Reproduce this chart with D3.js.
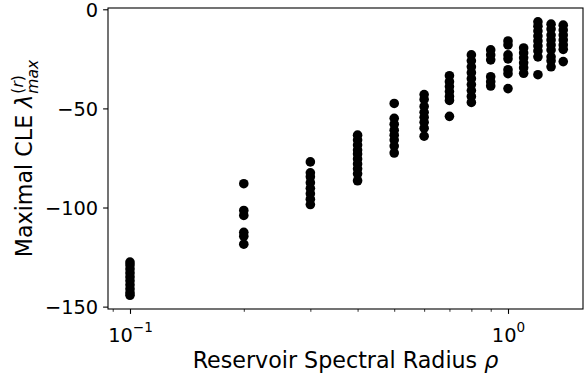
<!DOCTYPE html>
<html>
<head>
<meta charset="utf-8">
<script src="https://cdn.jsdelivr.net/npm/d3@7"></script>
<style>
  html, body { margin: 0; padding: 0; background: #fff; }
  svg { display: block; }
  text { font-family: "DejaVu Sans", sans-serif; fill: #000; }
</style>
</head>
<body>
<svg id="chart" width="585" height="373"></svg>
<script>
// Reservoir spectral radius for each batch of runs
const rhoValues = [0.1, 0.2, 0.3, 0.4, 0.5, 0.6, 0.7, 0.8, 0.9, 1.0, 1.1, 1.2, 1.3, 1.4];

// Maximal conditional Lyapunov exponent of each run, grouped by spectral radius
const cle010 = [-127.5, -129, -131, -133, -135, -137, -139, -141, -143, -144.3];
const cle020 = [-88, -101.5, -104, -112.5, -114.5, -118.5];
const cle030 = [-77, -82.5, -84.5, -87.5, -90.3, -93, -95.8, -98.5];
const cle040 = [-63.5, -66, -68.5, -71, -73, -75.5, -78, -80.5, -83, -86.5];
const cle050 = [-47.5, -55, -58, -61, -63.5, -66, -69, -72.5];
const cle060 = [-43, -45.5, -49, -52, -54.5, -57, -60, -64];
const cle070 = [-33.5, -36.5, -39, -41.5, -44, -46, -54];
const cle080 = [-23, -26, -29, -32, -35, -38, -41, -44, -47];
const cle090 = [-20.5, -23, -25.5, -34, -36.5, -38.7];
const cle100 = [-16, -18, -23, -25, -30.5, -32.5, -40];
const cle110 = [-19.5, -22, -24.5, -27, -29.5, -32.3];
const cle120 = [-6.3, -8.5, -11, -13.5, -16, -18.5, -21, -24, -33];
const cle130 = [-7.5, -10, -13, -15.5, -18, -20.5, -24, -26, -29];
const cle140 = [-8, -10.5, -13, -15.5, -18, -20.2, -26.4];
const cleSamples = [cle010, cle020, cle030, cle040, cle050, cle060, cle070,
                    cle080, cle090, cle100, cle110, cle120, cle130, cle140];

const yTickValues = [0, -50, -100, -150];
const xMajorTicks = [0.1, 1];
const xTickExponents = ["\u22121", "0"];

const points = [];
rhoValues.forEach((rho, i) => cleSamples[i].forEach(v => points.push({ rho, v })));

const svg = d3.select("#chart");
const plotLeft = 108, plotRight = 583, plotTop = 8, plotBottom = 309;

const x = d3.scaleLog()
  .domain([Math.pow(10, -1.0582), Math.pow(10, 0.1984)])
  .range([plotLeft, plotRight]);
const y = d3.scaleLinear()
  .domain([-151.2, 0.65])
  .range([plotBottom, plotTop]);

const tickFont = 19.4;
const labelFont = 22.2;

// points
svg.append("g")
  .selectAll("circle")
  .data(points)
  .join("circle")
  .attr("cx", d => x(d.rho))
  .attr("cy", d => y(d.v))
  .attr("r", 4.8)
  .attr("fill", "#000");

// frame
svg.append("rect")
  .attr("x", plotLeft).attr("y", plotTop)
  .attr("width", plotRight - plotLeft).attr("height", plotBottom - plotTop)
  .attr("fill", "none").attr("stroke", "#000").attr("stroke-width", 1.1);

// y axis
const yAxis = svg.append("g")
  .attr("transform", `translate(${plotLeft},0)`)
  .call(d3.axisLeft(y).tickValues(yTickValues)
    .tickSize(4.9).tickPadding(4.9)
    .tickFormat(d => d < 0 ? "\u2212" + Math.abs(d) : String(d)));
yAxis.select(".domain").remove();
yAxis.selectAll(".tick line").attr("stroke-width", 1.1);
yAxis.selectAll(".tick text")
  .attr("font-size", tickFont)
  .attr("font-family", "DejaVu Sans")
  .attr("dy", "0.36em");

// x axis: minor ticks
const minorTicks = [];
[0.01, 0.1, 1].forEach(dec => {
  for (let k = 2; k <= 9; k++) {
    const t = dec * k;
    const [d0, d1] = x.domain();
    if (t >= d0 && t <= d1) minorTicks.push(t);
  }
});
const xMinor = svg.append("g")
  .attr("transform", `translate(0,${plotBottom})`)
  .call(d3.axisBottom(x).tickValues(minorTicks).tickSize(2.8).tickFormat(""));
xMinor.select(".domain").remove();
xMinor.selectAll(".tick line").attr("stroke-width", 0.8);

// x axis: major ticks with power-of-ten labels
const xAxis = svg.append("g")
  .attr("transform", `translate(0,${plotBottom})`)
  .call(d3.axisBottom(x).tickValues(xMajorTicks).tickSize(4.9).tickPadding(4.9).tickFormat(""));
xAxis.select(".domain").remove();
xAxis.selectAll(".tick line").attr("stroke-width", 1.1);
xAxis.selectAll(".tick text").remove();
xAxis.selectAll(".tick").each(function (d, i) {
  const t = d3.select(this).append("text")
    .attr("y", 32.5)
    .attr("text-anchor", "middle")
    .attr("font-size", tickFont);
  t.append("tspan").text("10");
  t.append("tspan")
    .attr("font-size", tickFont * 0.7)
    .attr("dy", -9.5)
    .text(xTickExponents[i]);
});

// x label
const xl = svg.append("text")
  .attr("x", (plotLeft + plotRight) / 2)
  .attr("y", 367.5)
  .attr("text-anchor", "middle")
  .attr("font-size", labelFont);
xl.append("tspan").text("Reservoir Spectral Radius ");
xl.append("tspan").attr("font-style", "italic").text("\u03c1");

// y label: λ with stacked (r) superscript and "max" subscript
const yl = svg.append("g");
const ylInner = yl.append("g");
const base = ylInner.append("text").attr("font-size", labelFont);
base.append("tspan").text("Maximal CLE ");
base.append("tspan").attr("font-style", "italic").text("\u03bb");
const w0 = base.node().getComputedTextLength();
const sup = ylInner.append("text")
  .attr("x", w0 + 1).attr("y", -9.5)
  .attr("font-size", labelFont * 0.7);
sup.append("tspan").text("(");
sup.append("tspan").attr("font-style", "italic").text("r");
sup.append("tspan").text(")");
const sub = ylInner.append("text")
  .attr("x", w0 + 1).attr("y", 5.5)
  .attr("font-size", labelFont * 0.7)
  .attr("font-style", "italic")
  .text("max");
const wTotal = w0 + 1 + Math.max(sup.node().getComputedTextLength(), sub.node().getComputedTextLength());
ylInner.attr("transform", `translate(${-wTotal / 2},0)`);
yl.attr("transform", `translate(32,${(plotTop + plotBottom) / 2}) rotate(-90)`);
</script>
</body>
</html>
